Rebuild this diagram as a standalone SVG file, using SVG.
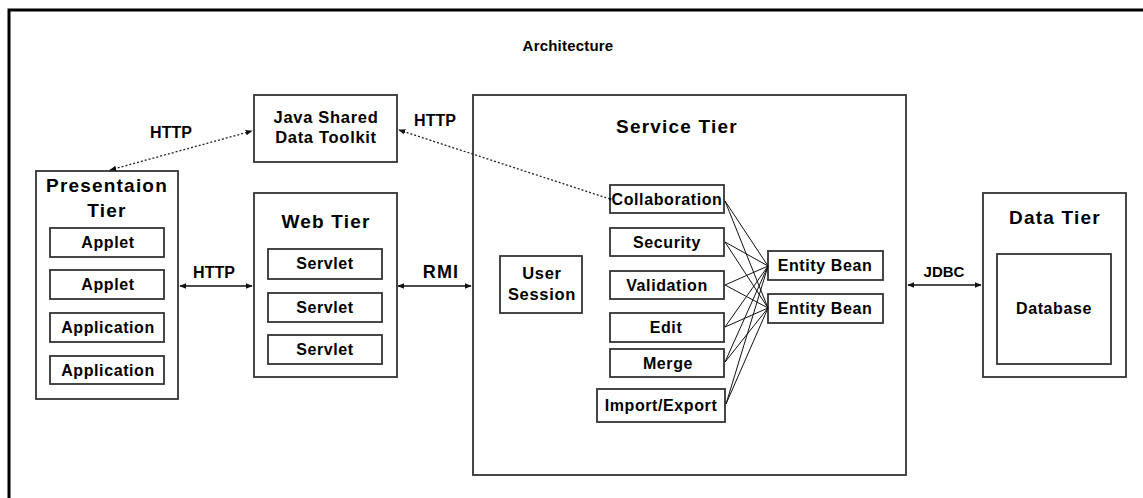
<svg xmlns="http://www.w3.org/2000/svg" width="1143" height="498" viewBox="0 0 1143 498">
<style>
.box{fill:#fff;stroke:#333;stroke-width:1.8}
.t{font-family:"Liberation Sans",Arial,sans-serif;font-weight:bold;fill:#000;text-anchor:middle}
.h{font-size:19px;letter-spacing:1.2px}
.s{font-size:16px;letter-spacing:0.6px}
.m{font-size:16.5px;letter-spacing:0.7px}
.lbl{font-size:16px}
.ln{stroke:#111;stroke-width:1.3;fill:none}
.dot{stroke:#222;stroke-width:1.3;fill:none;stroke-dasharray:2 2}
.mesh{stroke:#111;stroke-width:1;fill:none}
</style>
<defs>
<marker id="ah" viewBox="0 0 10 10" refX="9" refY="5" markerWidth="7" markerHeight="7" orient="auto-start-reverse" markerUnits="userSpaceOnUse">
<path d="M0,1 L10,5 L0,9 Z" fill="#111"/>
</marker>
<marker id="dt" viewBox="0 0 4 4" refX="2" refY="2" markerWidth="3" markerHeight="3" markerUnits="userSpaceOnUse">
<circle cx="2" cy="2" r="2" fill="#111"/>
</marker>
</defs>
<rect width="1143" height="498" fill="#fff"/>
<g id="frame">
<path d="M9,498 L9,10 L1143,10" fill="none" stroke="#000" stroke-width="3"/>
<text class="t" x="568" y="51" font-size="15" letter-spacing="0.2">Architecture</text>
</g>
<g id="presentation">
<rect class="box" x="36" y="171" width="142" height="228"/>
<text class="t h" x="107" y="192">Presentaion</text>
<text class="t h" x="107" y="217">Tier</text>
<rect class="box" x="50" y="228" width="114" height="29"/><text class="t s" x="108" y="248">Applet</text>
<rect class="box" x="50" y="270" width="114" height="29"/><text class="t s" x="108" y="290">Applet</text>
<rect class="box" x="50" y="313" width="114" height="29"/><text class="t s" x="108" y="333">Application</text>
<rect class="box" x="50" y="356" width="114" height="28"/><text class="t s" x="108" y="376">Application</text>
</g>
<g id="jsdt">
<rect class="box" x="254" y="95" width="143" height="67"/>
<text class="t m" x="326" y="123">Java Shared</text>
<text class="t m" x="326" y="143">Data Toolkit</text>
</g>
<g id="web">
<rect class="box" x="254" y="193" width="143" height="184"/>
<text class="t h" x="326" y="228">Web Tier</text>
<rect class="box" x="268" y="249" width="114" height="30"/><text class="t s" x="325" y="269">Servlet</text>
<rect class="box" x="268" y="293" width="114" height="29"/><text class="t s" x="325" y="313">Servlet</text>
<rect class="box" x="268" y="335" width="114" height="29"/><text class="t s" x="325" y="355">Servlet</text>
</g>
<g id="service">
<rect class="box" x="473" y="95" width="433" height="380"/>
<text class="t h" x="677" y="133">Service Tier</text>
<rect class="box" x="500" y="256" width="82" height="57"/>
<text class="t m" x="542" y="279">User</text>
<text class="t m" x="542" y="300">Session</text>
<rect class="box" x="610" y="185" width="114" height="28"/><text class="t s" x="667" y="205">Collaboration</text>
<rect class="box" x="610" y="228" width="114" height="28"/><text class="t s" x="667" y="248">Security</text>
<rect class="box" x="610" y="271" width="114" height="28"/><text class="t s" x="667" y="291">Validation</text>
<rect class="box" x="610" y="313" width="114" height="29"/><text class="t s" x="666" y="333">Edit</text>
<rect class="box" x="610" y="349" width="114" height="28"/><text class="t s" x="668" y="369">Merge</text>
<rect class="box" x="597" y="389" width="128" height="33"/><text class="t s" x="661" y="411">Import/Export</text>
<rect class="box" x="768" y="251" width="115" height="29"/><text class="t s" x="825" y="271">Entity Bean</text>
<rect class="box" x="768" y="294" width="115" height="29"/><text class="t s" x="825" y="314">Entity Bean</text>
</g>
<g id="data">
<rect class="box" x="983" y="193" width="143" height="184"/>
<text class="t h" x="1055" y="224">Data Tier</text>
<rect class="box" x="997" y="254" width="114" height="110"/>
<text class="t s" x="1054" y="314">Database</text>
</g>
<g id="connectors">
<line class="dot" x1="110" y1="170" x2="252" y2="131" marker-start="url(#ah)" marker-end="url(#ah)"/>
<text class="t lbl" x="171" y="138">HTTP</text>
<line class="dot" x1="610" y1="199" x2="399" y2="130" marker-start="url(#dt)" marker-end="url(#ah)"/>
<text class="t lbl" x="435" y="126">HTTP</text>
<line class="ln" x1="180" y1="286" x2="252" y2="286" marker-start="url(#ah)" marker-end="url(#ah)"/>
<text class="t lbl" x="214" y="278">HTTP</text>
<line class="ln" x1="398" y1="286" x2="471" y2="286" marker-start="url(#ah)" marker-end="url(#ah)"/>
<text class="t" x="441" y="278" font-size="18" letter-spacing="1.2">RMI</text>
<line class="ln" x1="908" y1="285" x2="981" y2="285" marker-start="url(#ah)" marker-end="url(#ah)"/>
<text class="t" x="944" y="277" font-size="15">JDBC</text>
<g class="mesh">
<path d="M725,201 L768,266 M725,201 L768,308"/>
<path d="M725,242 L768,266 M725,242 L768,308"/>
<path d="M725,285 L768,266 M725,285 L768,308"/>
<path d="M725,327 L768,266 M725,327 L768,308"/>
<path d="M725,362 L768,266 M725,362 L768,308"/>
<path d="M726,404 L768,266 M726,404 L768,308"/>
</g>
</g>
</svg>
